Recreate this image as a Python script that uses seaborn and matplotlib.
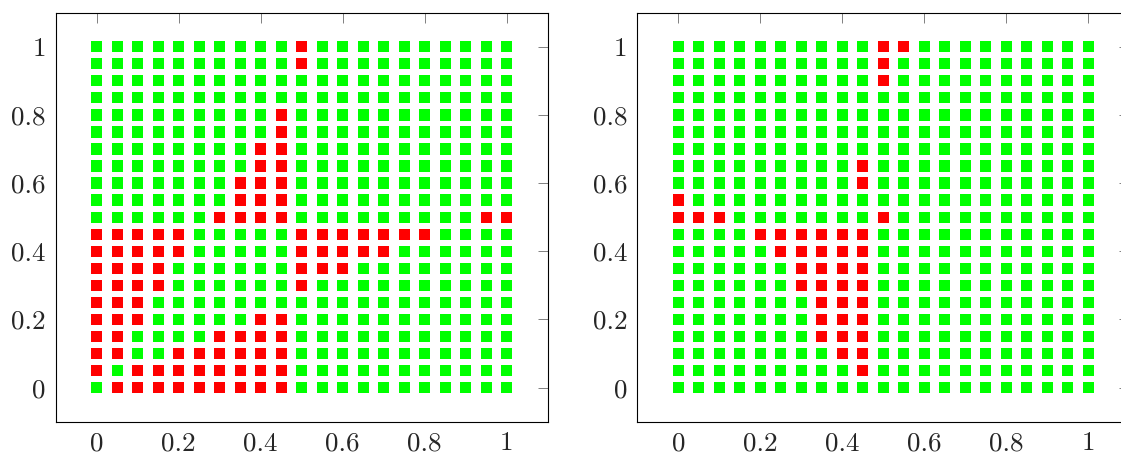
import numpy as np
import pandas as pd
import matplotlib
matplotlib.use("Agg")
import matplotlib.pyplot as plt
import seaborn as sns

# grid of 21x21 points on [0,1], rows listed top (y=1) to bottom (y=0)
# R = red (fail), G = green (ok)
grid_left = [
    "GGGGGGGGGGRGGGGGGGGGG",
    "GGGGGGGGGGRGGGGGGGGGG",
    "GGGGGGGGGGGGGGGGGGGGG",
    "GGGGGGGGGGGGGGGGGGGGG",
    "GGGGGGGGGRGGGGGGGGGGG",
    "GGGGGGGGGRGGGGGGGGGGG",
    "GGGGGGGGRRGGGGGGGGGGG",
    "GGGGGGGGRRGGGGGGGGGGG",
    "GGGGGGGRRRGGGGGGGGGGG",
    "GGGGGGGRRRGGGGGGGGGGG",
    "GGGGGGRRRRGGGGGGGGGRR",
    "RRRRRGGGGGRRRRRRRGGGG",
    "RRRRRGGGGGRRRRRGGGGGG",
    "RRRRGGGGGGRRRGGGGGGGG",
    "RRRRGGGGGGRGGGGGGGGGG",
    "RRRGGGGGGGGGGGGGGGGGG",
    "RRRGGGGGRRGGGGGGGGGGG",
    "RRGGGGRRRRGGGGGGGGGGG",
    "RRGGRRRRRRGGGGGGGGGGG",
    "RGRRRRRRRRGGGGGGGGGGG",
    "GRRRRRRRRRGGGGGGGGGGG",
]
grid_right = [
    "GGGGGGGGGGRRGGGGGGGGG",
    "GGGGGGGGGGRGGGGGGGGGG",
    "GGGGGGGGGGRGGGGGGGGGG",
    "GGGGGGGGGGGGGGGGGGGGG",
    "GGGGGGGGGGGGGGGGGGGGG",
    "GGGGGGGGGGGGGGGGGGGGG",
    "GGGGGGGGGGGGGGGGGGGGG",
    "GGGGGGGGGRGGGGGGGGGGG",
    "GGGGGGGGGRGGGGGGGGGGG",
    "RGGGGGGGGGGGGGGGGGGGG",
    "RRRGGGGGGGRGGGGGGGGGG",
    "GGGGRRRRRRGGGGGGGGGGG",
    "GGGGGRRRRRGGGGGGGGGGG",
    "GGGGGGRRRRGGGGGGGGGGG",
    "GGGGGGRRRRGGGGGGGGGGG",
    "GGGGGGGRRRGGGGGGGGGGG",
    "GGGGGGGRRRGGGGGGGGGGG",
    "GGGGGGGRRRGGGGGGGGGGG",
    "GGGGGGGGRRGGGGGGGGGGG",
    "GGGGGGGGGRGGGGGGGGGGG",
    "GGGGGGGGGGGGGGGGGGGGG",
]
tick_vals = [0, 0.2, 0.4, 0.6, 0.8, 1]
tick_labels = ["0", "0.2", "0.4", "0.6", "0.8", "1"]
colors = {"R": "#ff0000", "G": "#00ff00"}


def to_frame(rows):
    n = len(rows)
    recs = []
    for i, row in enumerate(rows):
        y = (n - 1 - i) / (n - 1)
        for j, c in enumerate(row):
            recs.append((j / (len(row) - 1), y, c))
    return pd.DataFrame(recs, columns=["x", "y", "state"])


sns.set_style("white")
plt.rcParams["font.family"] = ["cmr10", "DejaVu Serif"]
plt.rcParams["axes.formatter.use_mathtext"] = True

fig = plt.figure(figsize=(11.21, 4.53), dpi=100)
ax1 = fig.add_axes([0.0497, 0.0689, 0.4389, 0.9033])
ax2 = fig.add_axes([0.5685, 0.0689, 0.4389, 0.9033])

for ax, rows in [(ax1, grid_left), (ax2, grid_right)]:
    df = to_frame(rows)
    sns.scatterplot(data=df, x="x", y="y", hue="state", palette=colors,
                    marker="s", s=66, linewidth=0, legend=False, ax=ax)
    ax.set_xlim(-0.1, 1.1)
    ax.set_ylim(-0.1, 1.1)
    ax.set_xticks(tick_vals)
    ax.set_xticklabels(tick_labels)
    ax.set_yticks(tick_vals)
    ax.set_yticklabels(tick_labels)
    ax.set_xlabel("")
    ax.set_ylabel("")
    ax.tick_params(direction="in", length=7, width=0.7, color="#808080",
                   top=True, right=True, labelsize=19.5, pad=7)
    for sp in ax.spines.values():
        sp.set_visible(True)
        sp.set_color("black")
        sp.set_linewidth(0.8)

fig.savefig("out.png", dpi=100)
